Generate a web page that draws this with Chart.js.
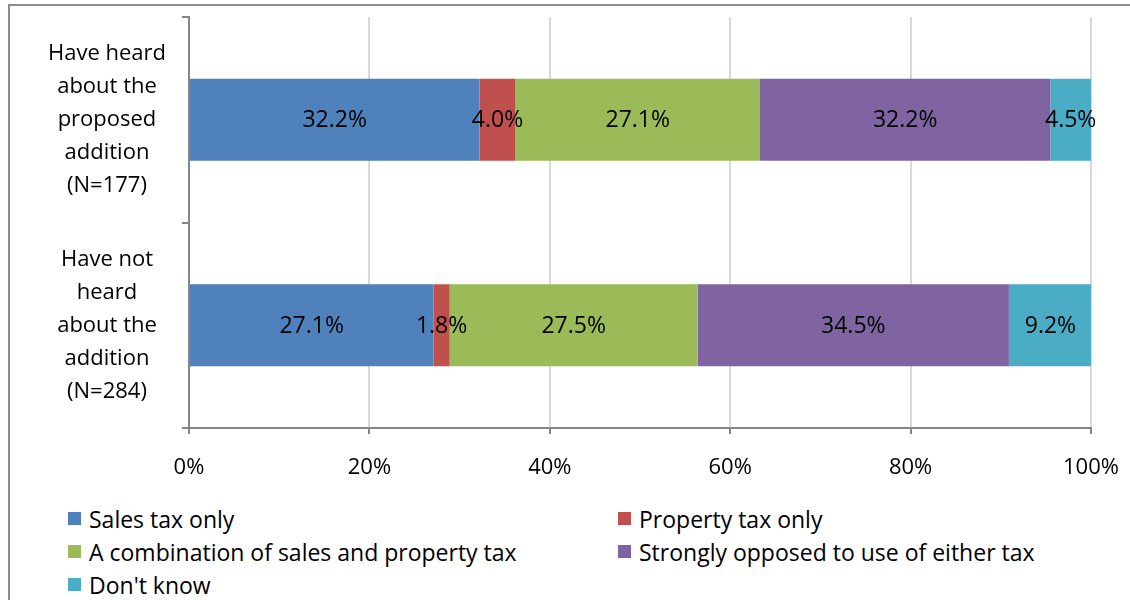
<!DOCTYPE html>
<html>
<head>
<meta charset="utf-8">
<script src="https://cdn.jsdelivr.net/npm/chart.js@4"></script>
<style>
  body { margin: 0; background: #fff; font-family: "Open Sans", sans-serif; }
  #frame { position: absolute; left: 8px; top: 4px; width: 1200px; height: 700px;
           border-left: 2px solid #8c8c8c; border-top: 2px solid #8c8c8c; }
  #wrap { position: absolute; left: 0; top: 0; width: 1130px; height: 490px; }
  #legend { position: absolute; left: 68px; top: 502px; display: grid;
            grid-template-columns: 550px auto; grid-auto-rows: 33px; font-size: 23px; color: #000; }
  .item { display: flex; align-items: center; }
  .box { width: 13px; height: 13px; margin-right: 8px; }
</style>
</head>
<body>
<div id="frame"></div>
<div id="wrap"><canvas id="chart-1"></canvas></div>
<div id="legend"></div>
<script>
const categories = [
    ['Have heard', 'about the', 'proposed', 'addition', '(N=177)'],
    ['Have not', 'heard', 'about the', 'addition', '(N=284)']
];
const seriesNames = [
    'Sales tax only',
    'Property tax only',
    'A combination of sales and property tax',
    'Strongly opposed to use of either tax',
    "Don't know"
];
const salesOnly = [32.2, 27.1];
const propertyOnly = [4.0, 1.8];
const combination = [27.1, 27.5];
const opposed = [32.2, 34.5];
const dontKnow = [4.5, 9.2];
const xTicks = [0, 20, 40, 60, 80, 100];
const colors = ['#4f81bd', '#c0504d', '#9bbb59', '#8064a2', '#4bacc6'];

const seriesValues = [salesOnly, propertyOnly, combination, opposed, dontKnow];

// draw the percent labels in the middle of every segment
const segmentLabels = {
    id: 'segmentLabels',
    afterDatasetsDraw(chart) {
        const ctx = chart.ctx;
        ctx.save();
        ctx.font = '23px "Open Sans", sans-serif';
        ctx.fillStyle = '#000';
        ctx.textAlign = 'center';
        ctx.textBaseline = 'middle';
        chart.data.datasets.forEach((ds, i) => {
            chart.getDatasetMeta(i).data.forEach((bar, j) => {
                const p = bar.getCenterPoint();
                ctx.fillText(ds.data[j].toFixed(1) + '%', p.x, p.y + 1);
            });
        });
        ctx.restore();
    }
};

const chart1 = new Chart(document.getElementById('chart-1'), {
    type: 'bar',
    data: {
        labels: categories,
        datasets: seriesNames.map((name, i) => ({
            label: name,
            data: seriesValues[i],
            backgroundColor: colors[i],
            borderWidth: 0,
            barPercentage: 0.4,
            categoryPercentage: 1
        }))
    },
    options: {
        indexAxis: 'y',
        responsive: true,
        maintainAspectRatio: false,
        animation: false,
        layout: { padding: { top: 17, right: 39, left: 0, bottom: 0 } },
        scales: {
            x: {
                stacked: true,
                min: 0,
                max: 100,
                afterBuildTicks(scale) {
                    scale.ticks = xTicks.map(v => ({ value: v }));
                },
                afterFit(scale) {
                    scale.height = 62;
                    scale.paddingLeft = 0;
                    scale.paddingRight = 0;
                },
                ticks: {
                    callback: v => v + '%',
                    color: '#000',
                    padding: 21,
                    font: { size: 22, family: '"Open Sans", sans-serif' }
                },
                grid: { color: '#d9d9d9', lineWidth: 2, tickColor: '#868686', tickLength: 6 },
                border: { color: '#868686', width: 2 }
            },
            y: {
                stacked: true,
                afterFit(scale) {
                    scale.width = 189;
                    scale.paddingTop = 0;
                    scale.paddingBottom = 0;
                },
                ticks: {
                    color: '#000',
                    crossAlign: 'center',
                    padding: 16,
                    font: { size: 22, family: '"Open Sans", sans-serif', lineHeight: '33px' }
                },
                grid: { drawOnChartArea: false, color: '#868686', lineWidth: 2, tickLength: 7, offset: true },
                border: { color: '#868686', width: 2 }
            }
        },
        plugins: {
            legend: { display: false },
            tooltip: { enabled: false }
        }
    },
    plugins: [segmentLabels]
});

// legend in two columns like the original
const legendBox = document.getElementById('legend');
seriesNames.forEach((name, i) => {
    const item = document.createElement('div');
    item.className = 'item';
    item.innerHTML = '<span class="box" style="background:' + colors[i] + '"></span><span></span>';
    item.lastChild.textContent = name;
    legendBox.appendChild(item);
});
</script>
</body>
</html>
